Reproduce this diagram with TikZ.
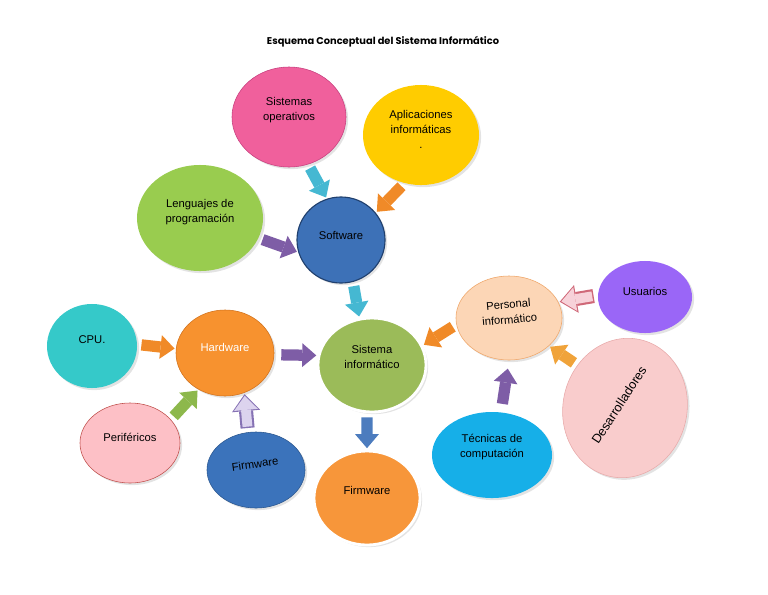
\documentclass[tikz,border=0pt]{standalone}
\usepackage{fontspec}
\setmainfont{Liberation Sans}
\newfontfamily\titlefont{Poppins}
\usetikzlibrary{shapes.geometric,arrows.meta,shadows}

\definecolor{opsPink}{HTML}{F0609C}
\definecolor{opsLine}{HTML}{C8407F}
\definecolor{aplGold}{HTML}{FFCC00}
\definecolor{lenGreen}{HTML}{99CC4F}
\definecolor{softBlue}{HTML}{3D71B7}
\definecolor{softLine}{HTML}{20406E}
\definecolor{sisGreen}{HTML}{9BBB59}
\definecolor{hardOrange}{HTML}{F7922F}
\definecolor{hardLine}{HTML}{D2721C}
\definecolor{cpuTeal}{HTML}{35C9C9}
\definecolor{periPink}{HTML}{FDC0C6}
\definecolor{periLine}{HTML}{C0504D}
\definecolor{fwBlue}{HTML}{3B73BB}
\definecolor{fwLine}{HTML}{2B578F}
\definecolor{fwbOrange}{HTML}{F7963A}
\definecolor{persPeach}{HTML}{FCD6B6}
\definecolor{persLine}{HTML}{EFA669}
\definecolor{usuPurple}{HTML}{9A66F7}
\definecolor{desPink}{HTML}{F9CCCC}
\definecolor{desLine}{HTML}{E8AAAA}
\definecolor{tecBlue}{HTML}{16AFE8}
\definecolor{arrCyan}{HTML}{45B8D2}
\definecolor{arrOrange}{HTML}{F08A28}
\definecolor{arrPurple}{HTML}{7E5DA6}
\definecolor{arrGreen}{HTML}{8DB84C}
\definecolor{arrBlue}{HTML}{4C7CBE}
\definecolor{arrGold}{HTML}{F0A33A}
\definecolor{lavFill}{HTML}{DCD3EE}
\definecolor{lavLine}{HTML}{8672B4}
\definecolor{pinkFill}{HTML}{F7D2D9}
\definecolor{pinkLine}{HTML}{CF6878}

\begin{document}
\begin{tikzpicture}[x=0.025cm, y=0.025cm]
	\tikzstyle{every node}+=[inner sep=0pt]
	\tikzstyle{blob}=[ellipse, drop shadow={opacity=0.22,shadow xshift=1.5pt,shadow yshift=-1.5pt}]
	\tikzstyle{rim}=[draw=white, line width=2pt]
	\tikzstyle{txt}=[align=center, font=\fontsize{8}{10.7}\selectfont]
	\tikzstyle{blk}=[line width=8pt, -{Triangle[width=17pt,length=10pt,line width=0pt]}, shorten <=3pt, shorten >=1pt]
	\tikzset{dims/.style 2 args={minimum width=#1cm, minimum height=#2cm}}
	\useasboundingbox (0,0) rectangle (768,-594);
	% title
	\node[font=\titlefont\bfseries\fontsize{7}{8}\selectfont] (title) at (383,-42) {Esquema Conceptual del Sistema Inform\'atico};
	% software side
	\node[blob, dims={2.85}{2.5}, fill=opsPink, draw=opsLine, thin] (so) at (289,-117) {};
	\node[txt] (so-t) at (289,-110) {Sistemas\\operativos};
	\node[blob, dims={2.9}{2.5}, fill=aplGold] (apl) at (421,-135) {};
	\node[txt] (apl-t) at (421,-129) {Aplicaciones\\inform\'aticas\\.};
	\node[blob, dims={3.15}{2.65}, fill=lenGreen] (len) at (200,-218) {};
	\node[txt] (len-t) at (200,-212) {Lenguajes de\\programaci\'on};
	\node[blob, dims={2.2}{2.15}, fill=softBlue, draw=softLine, thick] (soft) at (341,-240) {};
	\node[txt] (soft-t) at (341,-235) {Software};
	% centre
	\node[blob, dims={2.7}{2.35}, fill=sisGreen, rim] (sis) at (372,-365) {};
	\node[txt] (sis-t) at (372,-357) {Sistema\\inform\'atico};
	\node[blob, dims={2.65}{2.35}, fill=fwbOrange, rim] (fwb) at (367,-498) {};
	\node[txt] (fwb-t) at (367,-490) {Firmware};
	% hardware side
	\node[blob, dims={2.45}{2.15}, fill=hardOrange, draw=hardLine, thin] (hard) at (225,-353) {};
	\node[txt, text=white] (hard-t) at (225,-347) {Hardware};
	\node[blob, dims={2.25}{2.1}, fill=cpuTeal] (cpu) at (92,-346) {};
	\node[txt] (cpu-t) at (92,-340) {CPU.};
	\node[blob, dims={2.5}{2.0}, fill=periPink, draw=periLine, thin] (peri) at (130,-443) {};
	\node[txt] (peri-t) at (130,-437) {Perif\'ericos};
	\node[blob, dims={2.45}{1.9}, fill=fwBlue, draw=fwLine, thin] (fwl) at (256,-470) {};
	\node[txt, rotate=8] (fwl-t) at (255,-464) {Firmware};
	% people side
	\node[blob, dims={2.65}{2.1}, fill=persPeach, draw=persLine, thin] (pers) at (509,-318) {};
	\node[txt, rotate=5] (pers-t) at (509,-312) {Personal\\inform\'atico};
	\node[blob, dims={2.35}{1.8}, fill=usuPurple] (usu) at (645,-297) {};
	\node[txt] (usu-t) at (645,-291) {Usuarios};
	\node[blob, dims={3.1}{3.5}, fill=desPink, draw=desLine, thin, rotate=-12] (des) at (625,-408) {};
	\node[txt, font=\fontsize{9}{11}\selectfont, rotate=57] (des-t) at (619,-405) {Desarrolladores};
	\node[blob, dims={3.0}{2.15}, fill=tecBlue] (tec) at (492,-455) {};
	\node[txt] (tec-t) at (492,-447) {T\'ecnicas de\\computaci\'on};
	% arrows
	\draw[blk, arrCyan] (so.292) -- (soft.109);
	\draw[blk, arrOrange] (apl.251) -- (soft.38);
	\draw[blk, arrPurple] (len.341) -- (soft.196);
	\draw[blk, arrCyan] (soft.286) -- (sis.105);
	\draw[blk, arrOrange] (cpu.2) -- (hard.175);
	\draw[blk, arrPurple, shorten <=5pt] (hard.358) -- (sis.170);
	\draw[blk, arrGreen] (peri.30) -- (hard.234);
	\draw[blk, lavLine, line width=10pt, -{Triangle[width=20pt,length=12pt,line width=0pt]}] (fwl.102) -- (hard.296);
	\draw[blk, lavFill, line width=7pt, shorten <=4pt, shorten >=2.2pt] (fwl.102) -- (hard.296);
	\draw[blk, arrBlue] (sis.264) -- (fwb.90);
	\draw[blk, arrOrange] (pers.187) -- (sis.21);
	\draw[blk, pinkLine, line width=10pt, -{Triangle[width=20pt,length=12pt,line width=0pt]}] (usu.178) -- (pers.18);
	\draw[blk, pinkFill, line width=7pt, shorten <=4pt, shorten >=2.2pt] (usu.178) -- (pers.18);
	\draw[blk, arrGold] (des.150) -- (pers.325);
	\draw[blk, arrPurple, shorten <=6pt, shorten >=6pt] (tec.78) -- (pers.270);
\end{tikzpicture}
\end{document}
